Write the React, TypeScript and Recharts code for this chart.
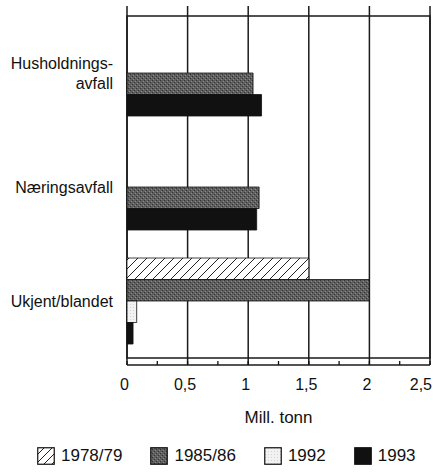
import React from 'react';
import { BarChart, Bar, XAxis, YAxis, CartesianGrid, Cell, Legend, ReferenceArea } from 'recharts';

const categories = ['Husholdnings-\navfall', 'Næringsavfall', 'Ukjent/blandet'];
const seriesNames = ['1978/79', '1985/86', '1992', '1993'];
const values1978: (number | null)[] = [null, null, 1.5];
const values1985: (number | null)[] = [1.04, 1.09, 2.0];
const values1992: (number | null)[] = [null, null, 0.08];
const values1993: (number | null)[] = [1.11, 1.07, 0.05];
const axisTicks = [0, 0.25, 0.5, 0.75, 1, 1.25, 1.5, 1.75, 2, 2.25, 2.5];
const labelTicks = [0, 0.5, 1, 1.5, 2, 2.5];
const axisTitle = 'Mill. tonn';

const seriesValues = [values1978, values1985, values1992, values1993];
const SLOTS = 4;

const fills: Record<string, string> = {
  '1978/79': 'url(#hatch)',
  '1985/86': 'url(#stipple)',
  '1992': 'url(#light)',
  '1993': '#111',
};

// bars present in a category are packed toward the bottom of the group, as in the source
const rows = categories.map((name, i) => {
  const present = seriesNames
    .map((s, k) => ({ s, v: seriesValues[k][i] }))
    .filter((e) => e.v !== null && e.v !== undefined);
  const row: Record<string, any> = { name };
  present.forEach((e, k) => {
    const slot = SLOTS - present.length + k;
    row[`slot${slot}`] = e.v;
    row[`name${slot}`] = e.s;
  });
  return row;
});

const FONT = '"Liberation Sans", Arial, Helvetica, sans-serif';

const YTick = (props: any) => {
  const { x, y, payload } = props;
  const lines = String(payload.value).split('\n');
  const lh = 20;
  const first = y + 6 - ((lines.length - 1) * lh) / 2;
  return (
    <text x={x} y={first} textAnchor="end" fontSize={16} fontFamily={FONT} fill="#111">
      {lines.map((l, i) => (
        <tspan key={i} x={x} y={first + i * lh}>
          {l}
        </tspan>
      ))}
    </text>
  );
};

const XTick = (props: any) => {
  const { x, y, payload } = props;
  const v = payload.value;
  const show = labelTicks.includes(v);
  const isLast = v === labelTicks[labelTicks.length - 1];
  return (
    <g>
      <line x1={x} x2={x} y1={y} y2={y - 4} stroke="#111" strokeWidth={1.3} />
      {show && (
        <text
          x={isLast ? x + 2 : x - 2.5}
          y={y + 25}
          textAnchor={isLast ? 'end' : 'middle'}
          fontSize={16}
          fontFamily={FONT}
          fill="#111"
        >
          {String(v).replace('.', ',')}
        </text>
      )}
    </g>
  );
};

const Swatch = ({ name }: { name: string }) => (
  <svg width={18} height={18} style={{ display: 'block' }}>
    <defs>
      <pattern id="lg-hatch" patternUnits="userSpaceOnUse" width="8" height="8">
        <rect width="8" height="8" fill="#fff" />
        <path d="M0,8 L8,0 M-2,2 L2,-2 M6,10 L10,6" stroke="#222" strokeWidth="1" />
      </pattern>
    </defs>
    <rect
      x={0.75}
      y={0.75}
      width={16.5}
      height={16.5}
      fill={name === '1978/79' ? 'url(#lg-hatch)' : fills[name]}
      stroke="#111"
      strokeWidth={1.2}
    />
  </svg>
);

const LegendContent = () => (
  <div
    style={{
      display: 'flex',
      alignItems: 'center',
      height: 24,
      paddingLeft: 37,
      fontFamily: FONT,
      fontSize: 17,
      color: '#111',
    }}
  >
    {seriesNames.map((s, i) => (
      <div key={s} style={{ display: 'flex', alignItems: 'center', marginRight: i < seriesNames.length - 1 ? 28 : 0 }}>
        <Swatch name={s} />
        <span style={{ marginLeft: 6, lineHeight: '18px' }}>{s}</span>
      </div>
    ))}
  </div>
);

export default function App() {
  return (
    <div style={{ position: 'absolute', left: 0, top: 0, background: '#fff' }}>
      <BarChart
        width={433}
        height={474}
        data={rows}
        layout="vertical"
        margin={{ top: 6, right: 3, left: 0, bottom: 6 }}
        barGap={0}
        barCategoryGap={14}
      >
        <defs>
          <pattern id="hatch" patternUnits="userSpaceOnUse" width="9" height="9">
            <rect width="9" height="9" fill="#fff" />
            <path d="M0,9 L9,0 M-2,2 L2,-2 M7,11 L11,7" stroke="#222" strokeWidth="1" />
          </pattern>
          <pattern id="stipple" patternUnits="userSpaceOnUse" width="4" height="4">
            <rect width="4" height="4" fill="#5f5f5f" />
            <rect x="0" y="0" width="1" height="1" fill="#333" />
            <rect x="2" y="2" width="1" height="1" fill="#333" />
            <rect x="1" y="3" width="1" height="1" fill="#8a8a8a" />
            <rect x="3" y="1" width="1" height="1" fill="#8a8a8a" />
          </pattern>
          <pattern id="light" patternUnits="userSpaceOnUse" width="3" height="3">
            <rect width="3" height="3" fill="#f2f2f2" />
            <rect x="1" y="1" width="1" height="1" fill="#d4d4d4" />
          </pattern>
        </defs>
        <CartesianGrid
          stroke="#1a1a1a"
          strokeWidth={1.5}
          horizontal={false}
          {...({ verticalValues: labelTicks } as any)}
        />
        <XAxis
          type="number"
          domain={[0, 2.5]}
          ticks={axisTicks}
          interval={0}
          height={79}
          tickSize={0}
          tickMargin={0}
          tickLine={false}
          axisLine={{ stroke: '#1a1a1a', strokeWidth: 1.5 }}
          tick={<XTick />}
          label={{
            value: axisTitle,
            position: 'insideBottom',
            offset: 21,
            fontSize: 17,
            fontFamily: FONT,
            fill: '#111',
          }}
        />
        <YAxis
          type="category"
          dataKey="name"
          width={127}
          tickSize={0}
          tickMargin={14}
          tickLine={false}
          axisLine={false}
          interval={0}
          padding={{ top: 10, bottom: 7 }}
          tick={<YTick />}
        />
        <Legend verticalAlign="bottom" align="left" content={<LegendContent />} />
        {Array.from({ length: SLOTS }).map((_, j) => (
          <Bar key={j} dataKey={`slot${j}`} barSize={21.5} isAnimationActive={false}>
            {rows.map((r, i) => (
              <Cell key={i} fill={r[`name${j}`] ? fills[r[`name${j}`]] : 'none'} stroke="#111" strokeWidth={0.8} />
            ))}
          </Bar>
        ))}
        <ReferenceArea x1={0} x2={2.5} fill="none" fillOpacity={0} stroke="#1a1a1a" strokeWidth={1.5} ifOverflow="visible" />
      </BarChart>
    </div>
  );
}
